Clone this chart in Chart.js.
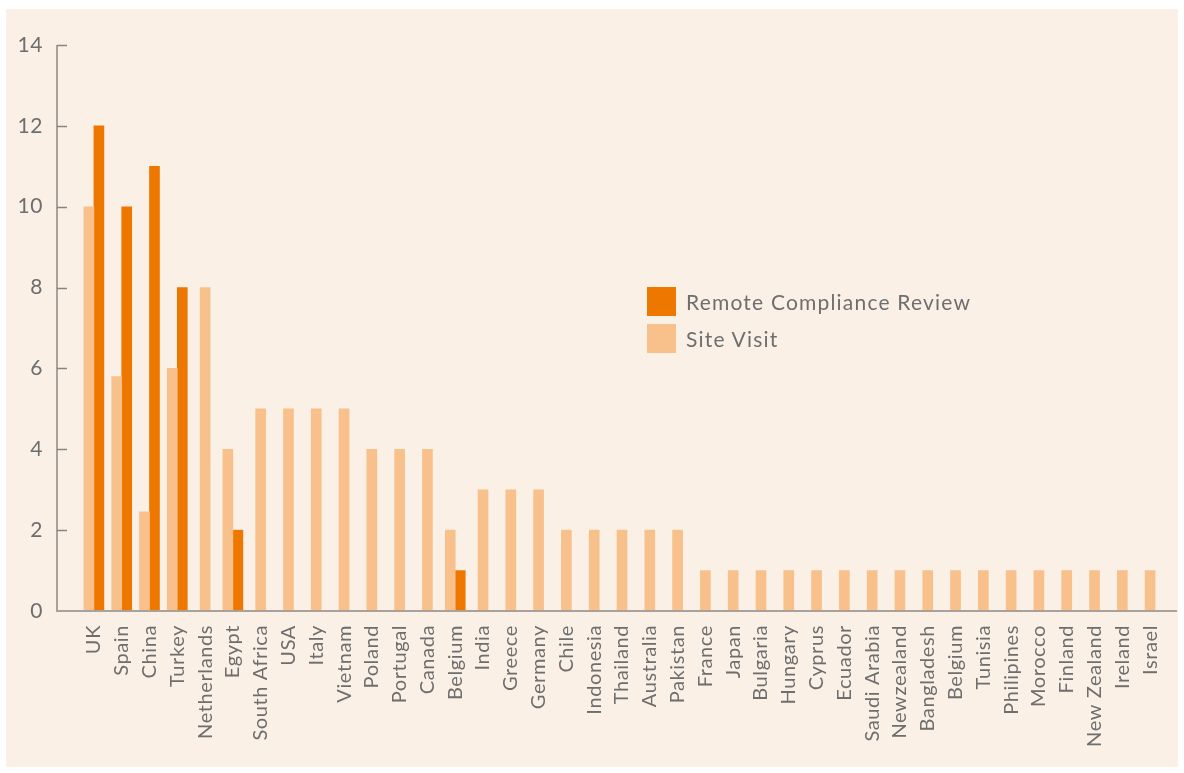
<!DOCTYPE html>
<html lang="en">
<head>
    <meta charset="UTF-8">
    <title>Remote Compliance Review vs Site Visit</title>
    <script src="https://cdn.jsdelivr.net/npm/chart.js@4.4.1/dist/chart.umd.min.js"></script>
    <style>
        body {
            margin: 0;
            background: #ffffff;
            font-family: Lato, sans-serif;
        }
        #wrap {
            position: relative;
            width: 1184px;
            height: 773px;
        }
        #legend {
            position: absolute;
            left: 647px;
            top: 287px;
        }
        .legend-item {
            display: flex;
            align-items: center;
            height: 29px;
            margin-bottom: 8px;
            font-size: 21px;
            color: #6e6e6e;
            letter-spacing: 1.2px;
        }
        .legend-box {
            width: 29px;
            height: 29px;
            margin-right: 10px;
        }
    </style>
</head>
<body>
    <div id="wrap">
        <canvas id="myChart" width="1184" height="773"></canvas>
        <div id="legend"></div>
    </div>

    <script>
        const countries = ['UK', 'Spain', 'China', 'Turkey', 'Netherlands', 'Egypt', 'South Africa', 'USA',
            'Italy', 'Vietnam', 'Poland', 'Portugal', 'Canada', 'Belgium', 'India', 'Greece', 'Germany',
            'Chile', 'Indonesia', 'Thailand', 'Australia', 'Pakistan', 'France', 'Japan', 'Bulgaria',
            'Hungary', 'Cyprus', 'Ecuador', 'Saudi Arabia', 'Newzealand', 'Bangladesh', 'Belgium',
            'Tunisia', 'Philipines', 'Morocco', 'Finland', 'New Zealand', 'Ireland', 'Israel'];

        const siteVisit = [10, 5.8, 2.45, 6, 8, 4, 5, 5, 5, 5, 4, 4, 4, 2, 3, 3, 3, 2, 2, 2, 2, 2,
            1, 1, 1, 1, 1, 1, 1, 1, 1, 1, 1, 1, 1, 1, 1, 1, 1];

        const remoteReview = [12, 10, 11, 8, null, 2, null, null, null, null, null, null, null, 1, null,
            null, null, null, null, null, null, null, null, null, null, null, null, null, null, null,
            null, null, null, null, null, null, null, null, null];

        const yTicks = [0, 2, 4, 6, 8, 10, 12, 14];

        const darkOrange = '#ee7700';
        const lightOrange = '#f8c08a';
        const textGrey = '#6e6e6e';
        const axisGrey = '#a9a19b';

        // beige panel, axis lines and the short inward tick marks
        const backdrop = {
            id: 'backdrop',
            beforeDraw(chart) {
                const ctx = chart.ctx;
                ctx.save();
                ctx.fillStyle = '#faf0e6';
                ctx.fillRect(6, 9, 1172, 758);
                ctx.restore();
                ctx.letterSpacing = '0.6px';
            },
            afterDatasetsDraw(chart) {
                const ctx = chart.ctx;
                const y = chart.scales.y;
                const area = chart.chartArea;
                const axisX = area.left - 23;
                const baseY = y.getPixelForValue(0);
                ctx.save();
                ctx.strokeStyle = axisGrey;
                ctx.lineWidth = 2;
                ctx.beginPath();
                ctx.moveTo(axisX, y.getPixelForValue(14));
                ctx.lineTo(axisX, baseY);
                ctx.lineTo(1177, baseY);
                ctx.stroke();
                ctx.strokeStyle = '#858585';
                ctx.lineWidth = 1.5;
                yTicks.slice(1).forEach(v => {
                    const py = Math.round(y.getPixelForValue(v)) + 0.5;
                    ctx.beginPath();
                    ctx.moveTo(axisX, py);
                    ctx.lineTo(axisX + 10, py);
                    ctx.stroke();
                });
                ctx.restore();
            }
        };

        const ctx = document.getElementById('myChart').getContext('2d');
        const myChart = new Chart(ctx, {
            type: 'bar',
            data: {
                labels: countries,
                datasets: [
                    {
                        label: 'Site Visit',
                        data: siteVisit,
                        backgroundColor: lightOrange
                    },
                    {
                        label: 'Remote Compliance Review',
                        data: remoteReview,
                        backgroundColor: darkOrange
                    }
                ]
            },
            options: {
                responsive: false,
                animation: false,
                skipNull: true,
                barThickness: 10,
                layout: {
                    padding: { top: 45, right: 20, bottom: 0, left: 0 }
                },
                plugins: {
                    legend: { display: false },
                    tooltip: { enabled: false }
                },
                scales: {
                    x: {
                        grid: { display: false, drawTicks: false },
                        border: { display: false },
                        ticks: {
                            autoSkip: false,
                            minRotation: 90,
                            maxRotation: 90,
                            padding: 14,
                            color: textGrey,
                            font: { family: 'Lato', size: 20 }
                        },
                        afterFit(scale) {
                            scale.height = 162;
                            scale.paddingLeft = 0;
                            scale.paddingRight = 0;
                        }
                    },
                    y: {
                        min: 0,
                        max: 14,
                        grid: { display: false, drawTicks: false },
                        border: { display: false },
                        ticks: {
                            stepSize: 2,
                            padding: 37,
                            color: textGrey,
                            font: { family: 'Lato', size: 21 }
                        },
                        afterFit(scale) {
                            scale.width = 80;
                            scale.paddingTop = 0;
                            scale.paddingBottom = 0;
                        }
                    }
                }
            },
            plugins: [backdrop]
        });

        // legend listed in reverse dataset order, as in the original
        const legendEl = document.getElementById('legend');
        myChart.data.datasets.slice().reverse().forEach(ds => {
            const item = document.createElement('div');
            item.className = 'legend-item';
            const box = document.createElement('span');
            box.className = 'legend-box';
            box.style.background = ds.backgroundColor;
            item.appendChild(box);
            item.appendChild(document.createTextNode(ds.label));
            legendEl.appendChild(item);
        });
    </script>
</body>
</html>
